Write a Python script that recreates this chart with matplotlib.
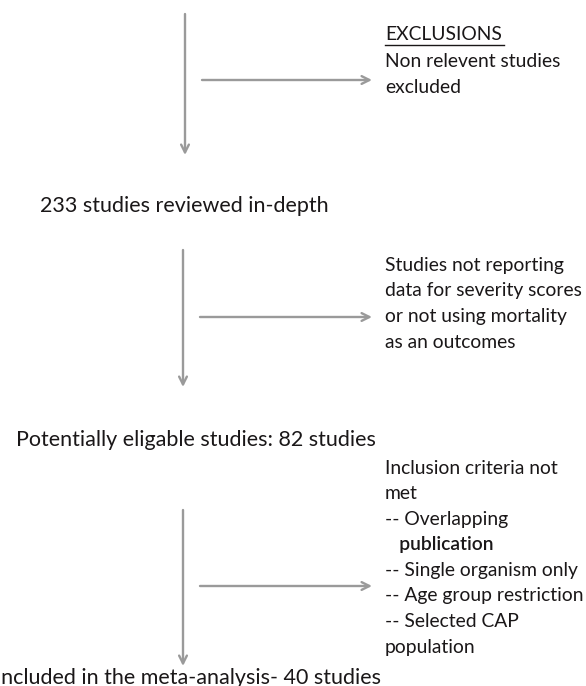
import matplotlib.pyplot as plt

# flow steps (main column)
steps = [
    '233 studies reviewed in-depth',
    'Potentially eligable studies: 82 studies',
    'Included in the meta-analysis- 40 studies',
]

# exclusion notes beside each arrow
excl_1 = ['EXCLUSIONS', 'Non relevent studies', 'excluded']
excl_2 = ['Studies not reporting', 'data for severity scores',
          'or not using mortality', 'as an outcomes']
excl_3 = ['Inclusion criteria not', 'met', '-- Overlapping', '   publication',
          '-- Single organism only', '-- Age group restriction',
          '-- Selected CAP', 'population']

W, H = 586, 686
fig = plt.figure(figsize=(W / 100, H / 100), dpi=100)
ax = fig.add_axes([0, 0, 1, 1])
ax.set_xlim(0, W)
ax.set_ylim(H, 0)
ax.axis('off')

txt_col = '#1a1718'
arr_col = '#9a9a9a'
fs_main = 15.5
fs_side = 13.9
font = 'Lato'


def arrow(x0, y0, x1, y1):
    ax.annotate('', xy=(x1, y1), xytext=(x0, y0),
                arrowprops=dict(arrowstyle='->', color=arr_col, lw=1.7,
                                mutation_scale=14, shrinkA=0, shrinkB=0))


def block(lines, x, y0, dy):
    for i, s in enumerate(lines):
        w = 'semibold' if s.strip() == 'publication' else 'normal'
        ax.text(x, y0 + i * dy, s, fontsize=fs_side, family=font, color=txt_col,
                va='center', ha='left', fontweight=w)


def step(s, x, y):
    ax.text(x, y, s, fontsize=fs_main, family=font, color=txt_col,
            va='center', ha='left')


# first stage
arrow(185, 14, 185, 155)
arrow(202, 80, 372, 80)
block(excl_1, 385, 35, 26.3)
ax.plot([385, 504], [44.5, 44.5], color=txt_col, lw=1)

step(steps[0], 40, 206)

# second stage
arrow(183, 250, 183, 387)
arrow(200, 317, 372, 317)
block(excl_2, 385, 265, 25.8)

step(steps[1], 16, 440)

# third stage
arrow(183, 510, 183, 666)
arrow(200, 586, 372, 586)
block(excl_3, 385, 468, 25.6)

# bottom step is clipped at the left edge in the original
step(steps[2], -5, 678)

fig.savefig('out.png', dpi=100)
